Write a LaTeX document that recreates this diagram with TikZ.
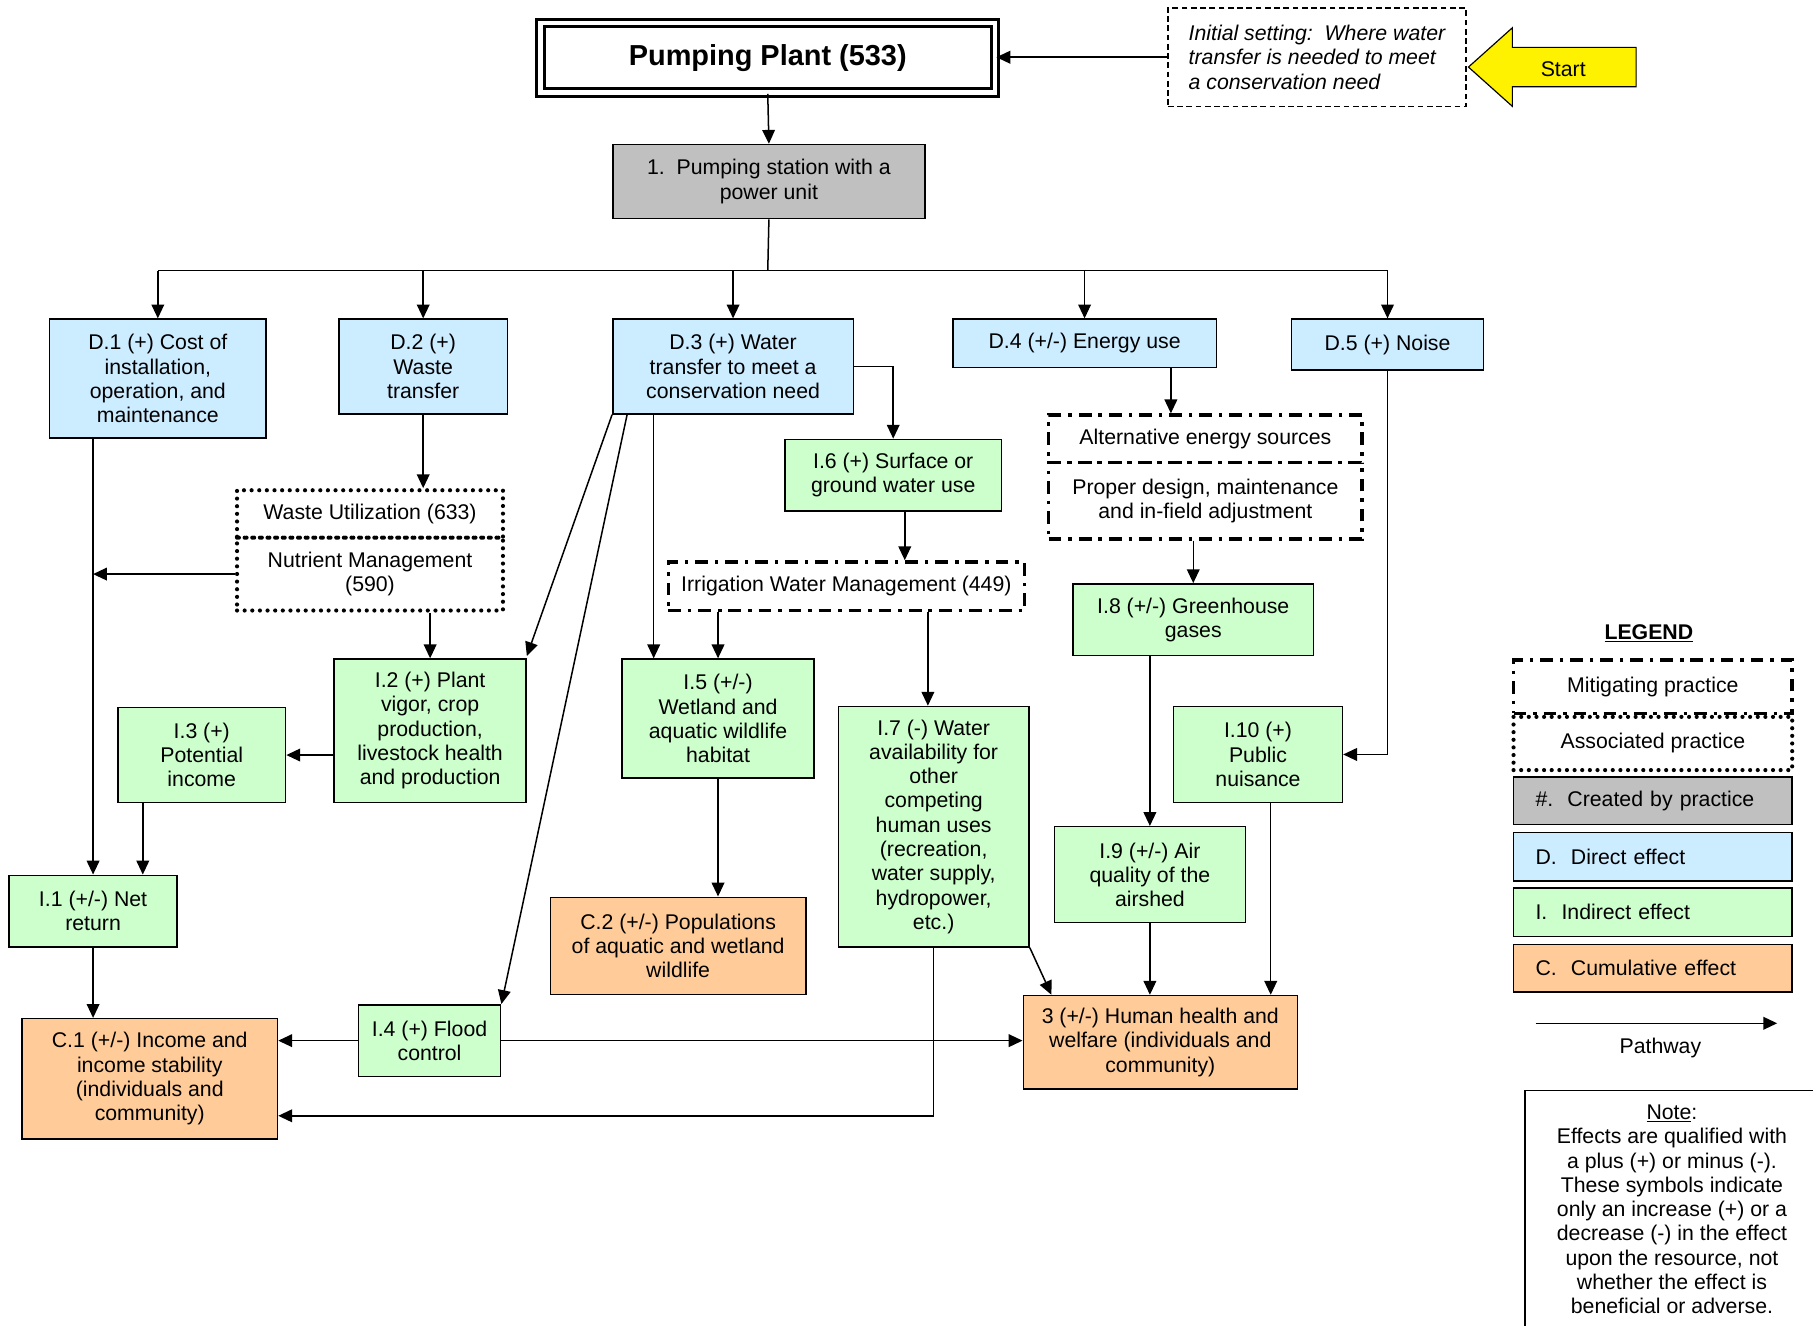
\documentclass[tikz,border=0pt]{standalone}
\usepackage{fontspec}
\setmainfont{Liberation Sans}
\usetikzlibrary{arrows.meta,calc}
\definecolor{plantgray}{HTML}{C0C0C0}
\definecolor{directblue}{HTML}{CCECFF}
\definecolor{indirgreen}{HTML}{CCFFCC}
\definecolor{cumorange}{HTML}{FFCC99}
\newcommand\boxfont{\fontsize{18.4}{21}\selectfont}
\begin{document}
\begin{tikzpicture}[x=1pt,y=-1pt,
  box/.style={draw,line width=1.3pt,align=center,inner sep=0pt,font=\boxfont},
  gbox/.style={box,fill=plantgray},
  dbox/.style={box,fill=directblue},
  ibox/.style={box,fill=indirgreen},
  cbox/.style={box,fill=cumorange},
  mitig/.style={box,line width=3pt,dash pattern=on 11pt off 6pt on 3pt off 6pt},
  assoc/.style={box,line width=3.6pt,line cap=round,dash pattern=on 0pt off 6.6pt},
  arr/.style={line width=1.3pt,-{Triangle[length=12pt,width=11pt]}}]
\fill[white] (0,0) rectangle (1568,1146);
\useasboundingbox (0,0) rectangle (1568,1146);
% top
\node[box,double,line width=2.5pt,double distance=4pt,minimum width=393,minimum height=60,
  font=\fontsize{25}{30}\selectfont\bfseries] (title) at (664,50) {Pumping Plant (533)};
\node[box,dash pattern=on 5pt off 3pt,minimum width=258,minimum height=85,align=left,
  font=\boxfont\itshape] (init) at (1139,49.5) {Initial setting:\ \ Where water\\transfer is needed to meet\\a conservation need};
\draw[line width=1pt,fill=yellow] (1270,58) -- (1308,24) -- (1308,41) -- (1415,41)
  -- (1415,75) -- (1308,75) -- (1308,92) -- cycle;
\node[font=\boxfont] (start) at (1352,60) {Start};
\draw[arr] (init.west) -- (init.west -| title.east);
\node[gbox,minimum width=270,minimum height=64] (p1) at (665,157) {1.\ \ Pumping station with a\\power unit};
\draw[arr] (title.south) -- (p1.north);
% direct effects
\node[dbox,minimum width=187,minimum height=103] (d1) at (136.5,327.5) {D.1 (+) Cost of\\installation,\\operation, and\\maintenance};
\node[dbox,minimum width=146,minimum height=82] (d2) at (366,317) {D.2 (+)\\Waste\\transfer};
\node[dbox,minimum width=208,minimum height=82] (d3) at (634,317) {D.3 (+) Water\\transfer to meet a\\conservation need};
\node[dbox,minimum width=228,minimum height=42] (d4) at (938,297) {D.4 (+/-) Energy use};
\node[dbox,minimum width=166,minimum height=44] (d5) at (1200,298) {D.5 (+) Noise};
\coordinate (bus) at (664,234);
\draw[line width=1.3pt] (p1.south) -- (bus);
\draw[line width=1.3pt] (d1.north |- bus) -- (d5.north |- bus);
\foreach \n in {d1,d2,d3,d4,d5}
  \draw[arr] (\n.north |- bus) -- (\n.north);
% practices
\node[assoc,minimum width=230,minimum height=41] (wu) at (320,444.5) {Waste Utilization (633)};
\node[assoc,minimum width=230,minimum height=63] (nm) at (320,496.5) {Nutrient Management\\(590)};
\node[mitig,minimum width=308,minimum height=42] (iwm) at (732,507) {Irrigation Water Management (449)};
\node[mitig,minimum width=271,minimum height=41] (alt) at (1042.5,379.5) {Alternative energy sources};
\node[mitig,minimum width=271,minimum height=66] (pd) at (1042.5,433) {Proper design, maintenance\\and in-field adjustment};
% indirect effects
\node[ibox,minimum width=145,minimum height=62] (i1) at (80.5,788) {I.1 (+/-) Net\\return};
\node[ibox,minimum width=166,minimum height=124] (i2) at (372,632) {I.2 (+) Plant\\vigor, crop\\production,\\livestock health\\and production};
\node[ibox,minimum width=145,minimum height=82] (i3) at (174.5,653) {I.3 (+)\\Potential\\income};
\node[ibox,minimum width=123,minimum height=62] (i4) at (371.5,900) {I.4 (+) Flood\\control};
\node[ibox,minimum width=166,minimum height=103] (i5) at (621,621.5) {I.5 (+/-)\\Wetland and\\aquatic wildlife\\habitat};
\node[ibox,minimum width=187,minimum height=62] (i6) at (772.5,411) {I.6 (+) Surface or\\ground water use};
\node[ibox,minimum width=165,minimum height=208] (i7) at (807.5,715) {I.7 (-) Water\\availability for\\other\\competing\\human uses\\(recreation,\\water supply,\\hydropower,\\etc.)};
\node[ibox,minimum width=208,minimum height=62] (i8) at (1032,536) {I.8 (+/-) Greenhouse\\gases};
\node[ibox,minimum width=165,minimum height=83] (i9) at (994.5,756.5) {I.9 (+/-) Air\\quality of the\\airshed};
\node[ibox,minimum width=146,minimum height=83] (i10) at (1088,652.5) {I.10 (+)\\Public\\nuisance};
% cumulative effects
\node[cbox,minimum width=221,minimum height=104] (c1) at (129.5,933) {C.1 (+/-) Income and\\income stability\\(individuals and\\community)};
\node[cbox,minimum width=221,minimum height=84] (c2) at (586.5,818) {C.2 (+/-) Populations\\of aquatic and wetland\\wildlife};
\node[cbox,minimum width=237,minimum height=81] (h3) at (1003.5,901.5) {3 (+/-) Human health and\\welfare (individuals and\\community)};
% pathways
\draw[arr] (d2.south) -- (d2.south |- wu.north);
\draw[arr] (i1.north |- d1.south) -- (i1.north);
\draw[arr] (nm.west) -- (nm.west -| i1.north);
\draw[arr] (i2.north |- nm.south) -- (i2.north);
\draw[arr] (i2.west |- i3.east) -- (i3.east);
\draw[arr] ([xshift=-51pt]i3.south) -- ([xshift=-51pt]i3.south |- i1.north);
\draw[arr] (i1.south) -- (i1.south |- c1.north);
\draw[arr] (d3.south west) -- ([yshift=2pt]i2.north east);
\draw[arr] ([xshift=13pt]d3.south west) -- (i4.north east);
\draw[arr] ([xshift=28pt]i5.north west |- d3.south) -- ([xshift=28pt]i5.north west);
\draw[arr] (d3.east) -| (i6.north);
\draw[arr] ([xshift=10pt]i6.south) -- ([xshift=10pt]i6.south |- iwm.north);
\draw[arr] (i5.north |- iwm.south) -- (i5.north);
\draw[arr] ([xshift=-5pt]i7.north |- iwm.south) -- ([xshift=-5pt]i7.north);
\draw[arr] (i5.south) -- (i5.south |- c2.north);
\draw[arr] (i7.south) |- ([yshift=-32pt]c1.east);
\draw[arr] (i7.south east) -- ([xshift=25pt]h3.north west);
\draw[arr] (i4.west) -- (i4.west -| c1.east);
\draw[arr] (i4.east) -- (i4.east -| h3.west);
\draw[arr] ([xshift=-40pt]d4.south east) -- ([xshift=-40pt]d4.south east |- alt.north);
\draw[arr] (i8.north |- pd.south) -- (i8.north);
\draw[arr] (i9.north |- i8.south) -- (i9.north);
\draw[arr] (i9.south) -- (i9.south |- h3.north);
\draw[arr] (d5.south) |- (i10.east);
\draw[arr] ([xshift=11pt]i10.south) -- ([xshift=11pt]i10.south |- h3.north);
% legend
\node[font=\boxfont\bfseries] (leg) at (1426,548) {\underline{LEGEND}};
\node[mitig,minimum width=241,minimum height=46] (lgm) at (1429.5,594) {Mitigating practice};
\node[assoc,minimum width=241,minimum height=46] (lga) at (1429.5,643) {Associated practice};
\node[gbox,minimum width=241,minimum height=41,text width=203,align=left] (lgc) at (1429.5,692.5) {\#.\ \ Created by practice};
\node[dbox,minimum width=241,minimum height=42,text width=203,align=left] (lgd) at (1429.5,741) {D.\ \ Direct effect};
\node[ibox,minimum width=241,minimum height=42,text width=203,align=left] (lgi) at (1429.5,789) {I.\ \ Indirect effect};
\node[cbox,minimum width=241,minimum height=41,text width=203,align=left] (lgcu) at (1429.5,837.5) {C.\ \ Cumulative effect};
\coordinate (pa) at (1328,885);
\coordinate (pb) at (1537,885);
\draw[arr] (pa) -- (pb);
\node[font=\boxfont] (pw) at (1436,906) {Pathway};
\node[box,minimum width=254,minimum height=206] (note) at (1446,1046) {\underline{Note}:\\Effects are qualified with\\a plus (+) or minus (-).\\These symbols indicate\\only an increase (+) or a\\decrease (-) in the effect\\upon the resource, not\\whether the effect is\\beneficial or adverse.};
\end{tikzpicture}
\end{document}
